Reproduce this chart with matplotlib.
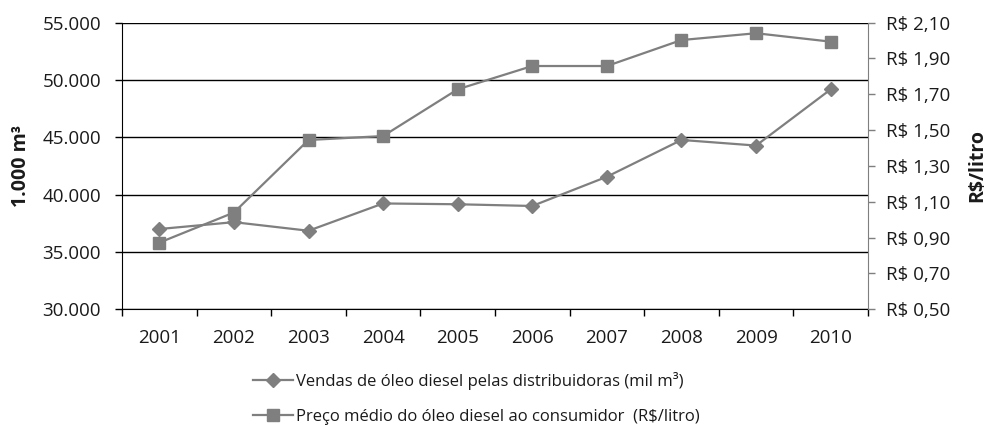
"""Vendas de óleo diesel x preço médio ao consumidor, 2001-2010."""
import matplotlib.pyplot as plt
import numpy as np

plt.rcParams["font.family"] = ["Open Sans", "DejaVu Sans"]

years = ["2001", "2002", "2003", "2004", "2005", "2006", "2007", "2008", "2009", "2010"]
vendas = [37000, 37600, 36850, 39230, 39160, 39010, 41560, 44770, 44280, 49180]
preco = [0.872, 1.040, 1.445, 1.467, 1.728, 1.858, 1.858, 2.003, 2.041, 1.994]

left_ticks = [30000, 35000, 40000, 45000, 50000, 55000]
right_ticks = [0.50, 0.70, 0.90, 1.10, 1.30, 1.50, 1.70, 1.90, 2.10]

label_vendas = "Vendas de óleo diesel pelas distribuidoras (mil m³)"
label_preco = "Preço médio do óleo diesel ao consumidor  (R$/litro)"

GRAY = "#7f7f7f"
TXT = "#1a1a1a"
FS = 13.5

fig = plt.figure(figsize=(9.88, 4.26), dpi=100)
ax = fig.add_axes([0.1235, 0.274, 0.755, 0.6728])
ax2 = ax.twinx()

x = np.arange(len(years))

# --- series ---
l1, = ax.plot(x, vendas, color=GRAY, lw=1.6, marker="D", ms=6.8,
              mec=GRAY, mfc=GRAY, label=label_vendas, zorder=3)
l2, = ax2.plot(x, preco, color=GRAY, lw=1.6, marker="s", ms=8.5,
               mec=GRAY, mfc=GRAY, label=label_preco, zorder=3)

# --- left axis ---
ax.set_xlim(-0.5, len(years) - 0.5)
ax.set_ylim(30000, 55000)
ax.set_yticks(left_ticks)
ax.set_yticklabels([f"{v:,}".replace(",", ".") for v in left_ticks],
                   fontsize=FS, color=TXT)
ax.yaxis.grid(True, color="black", lw=1.0)
ax.set_axisbelow(True)
ax.tick_params(axis="y", direction="out", length=5, width=1, color="black", pad=10)
ax.set_ylabel("1.000 m³", fontsize=14, fontweight="bold", color=TXT, labelpad=8)

# --- x axis: labels at centres, ticks between categories ---
ax.set_xticks(x)
ax.set_xticklabels(years, fontsize=FS, color=TXT)
ax.tick_params(axis="x", which="major", length=0, pad=14)
ax.set_xticks(np.arange(-0.5, len(years), 1.0), minor=True)
ax.tick_params(axis="x", which="minor", direction="out", length=5, width=1, color="black")

ax.spines["top"].set_visible(False)
ax2.spines["top"].set_visible(False)
ax.spines["right"].set_visible(False)
ax.spines["left"].set_color("black")
ax.spines["bottom"].set_color("black")
ax2.spines["left"].set_visible(False)
ax2.spines["bottom"].set_visible(False)
ax2.spines["right"].set_color(GRAY)

# --- right axis ---
ax2.set_ylim(0.50, 2.10)
ax2.set_yticks(right_ticks)
ax2.set_yticklabels([f"R$ {v:.2f}".replace(".", ",") for v in right_ticks],
                    fontsize=FS, color=TXT)
ax2.tick_params(axis="y", direction="out", length=5, width=1, color=GRAY, pad=8)
ax2.set_ylabel("R$/litro", fontsize=14, fontweight="bold", color=TXT, labelpad=12)

# --- legend below ---
fig.legend(handles=[l1, l2], loc="center", bbox_to_anchor=(0.482, 0.064),
           frameon=False, fontsize=12, handlelength=2.4, handletextpad=0.15,
           labelspacing=1.15, labelcolor=TXT)

fig.savefig("out.png", dpi=100)
